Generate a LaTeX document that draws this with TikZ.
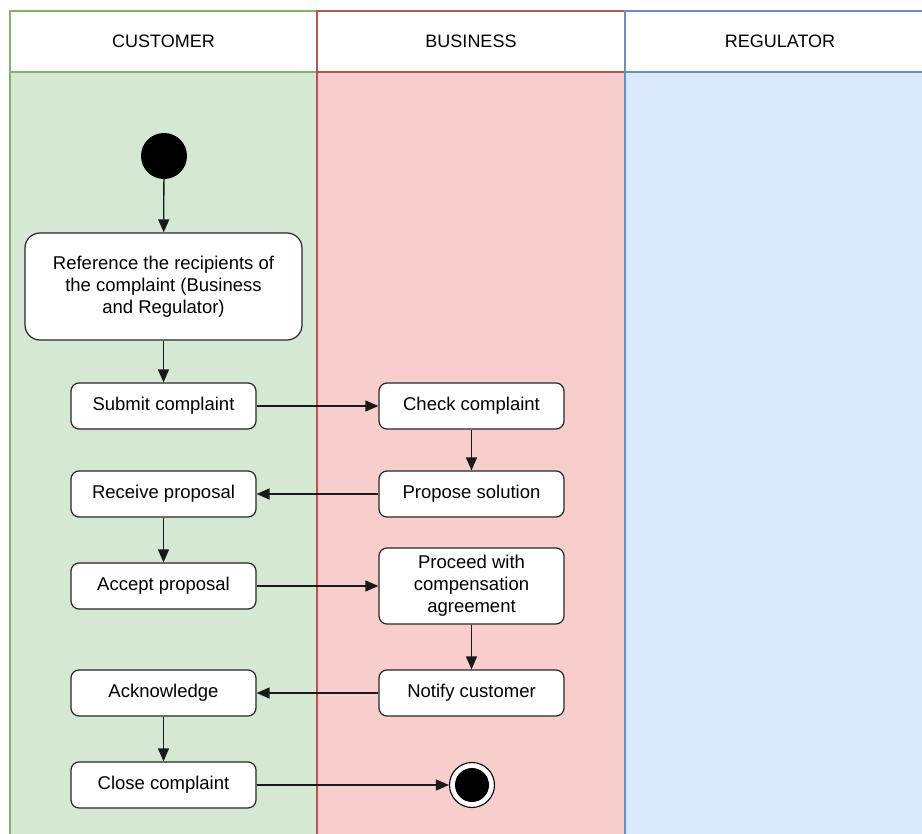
\documentclass[tikz,border=0pt]{standalone}
\usepackage{fontspec}
\setmainfont{Liberation Sans}
\usetikzlibrary{arrows.meta}
\definecolor{custfill}{HTML}{D5E8D4}
\definecolor{custline}{HTML}{82B366}
\definecolor{busfill}{HTML}{F8CECC}
\definecolor{busline}{HTML}{B85450}
\definecolor{regfill}{HTML}{DAE8FC}
\definecolor{regline}{HTML}{6C8EBF}
\tikzset{
  lanehead/.style={draw, fill=white, line width=1.2pt, font=\fontsize{18}{22}\selectfont},
  lanebody/.style={line width=1.2pt},
  action/.style={draw=black!85, fill=white, rounded corners=8pt, line width=1.2pt,
    minimum width=185pt, minimum height=46pt, align=center, inner sep=2pt,
    font=\fontsize{18.5}{22}\selectfont},
  flow/.style={-{Triangle[length=13pt,width=11pt]}, line width=1.3pt, draw=black!90},
}
\begin{document}
\begin{tikzpicture}[x=1pt,y=-1pt]
\useasboundingbox (0,0) rectangle (922,834);
\clip (0,0) rectangle (922,834);
% swimlane bodies
\fill[custfill] (10,72) rectangle (317,840);
\fill[busfill] (317,72) rectangle (625,840);
\fill[regfill] (625,72) rectangle (935,840);
\draw[custline, lanebody] (10,840) -- (10,11) -- (317,11);
\draw[busline, lanebody] (317,840) -- (317,11) -- (625,11);
\draw[regline, lanebody] (625,840) -- (625,11) -- (935,11);
% lane headers
\node[lanehead, draw=custline, minimum width=307pt, minimum height=61pt, inner sep=0pt] (hcust) at (163.5,41.5) {CUSTOMER};
\node[lanehead, draw=busline, minimum width=308pt, minimum height=61pt, inner sep=0pt] (hbus) at (471,41.5) {BUSINESS};
\node[lanehead, draw=regline, minimum width=310pt, minimum height=61pt, inner sep=0pt] (hreg) at (780,41.5) {REGULATOR};
% start and end states
\node[circle, fill=black, minimum size=46pt, inner sep=0pt] (start) at (164,156) {};
\node[circle, draw=black, fill=white, line width=1.1pt, minimum size=45pt, inner sep=0pt] (final) at (472,785) {};
\node[circle, fill=black, minimum size=34pt, inner sep=0pt] at (final) {};
% customer actions
\node[action, rounded corners=15pt, minimum width=277pt, minimum height=107pt] (ref) at (163.5,286.5)
  {Reference the recipients of\\the complaint (Business\\and Regulator)};
\node[action] (submit) at (163.5,406) {Submit complaint};
\node[action] (receive) at (163.5,494) {Receive proposal};
\node[action] (accept) at (163.5,586) {Accept proposal};
\node[action] (ack) at (163.5,693) {Acknowledge};
\node[action] (close) at (163.5,785) {Close complaint};
% business actions
\node[action] (check) at (471.5,406) {Check complaint};
\node[action] (propose) at (471.5,494) {Propose solution};
\node[action, minimum height=76pt] (proceed) at (471.5,586) {Proceed with\\compensation\\agreement};
\node[action] (notify) at (471.5,693) {Notify customer};
% flow
\draw[flow] (start) -- (ref);
\draw[flow] (ref) -- (submit);
\draw[flow] (submit) -- (check);
\draw[flow] (check) -- (propose);
\draw[flow] (propose) -- (receive);
\draw[flow] (receive) -- (accept);
\draw[flow] (accept) -- (proceed);
\draw[flow] (proceed) -- (notify);
\draw[flow] (notify) -- (ack);
\draw[flow] (ack) -- (close);
\draw[flow] (close) -- (final);
\end{tikzpicture}
\end{document}
